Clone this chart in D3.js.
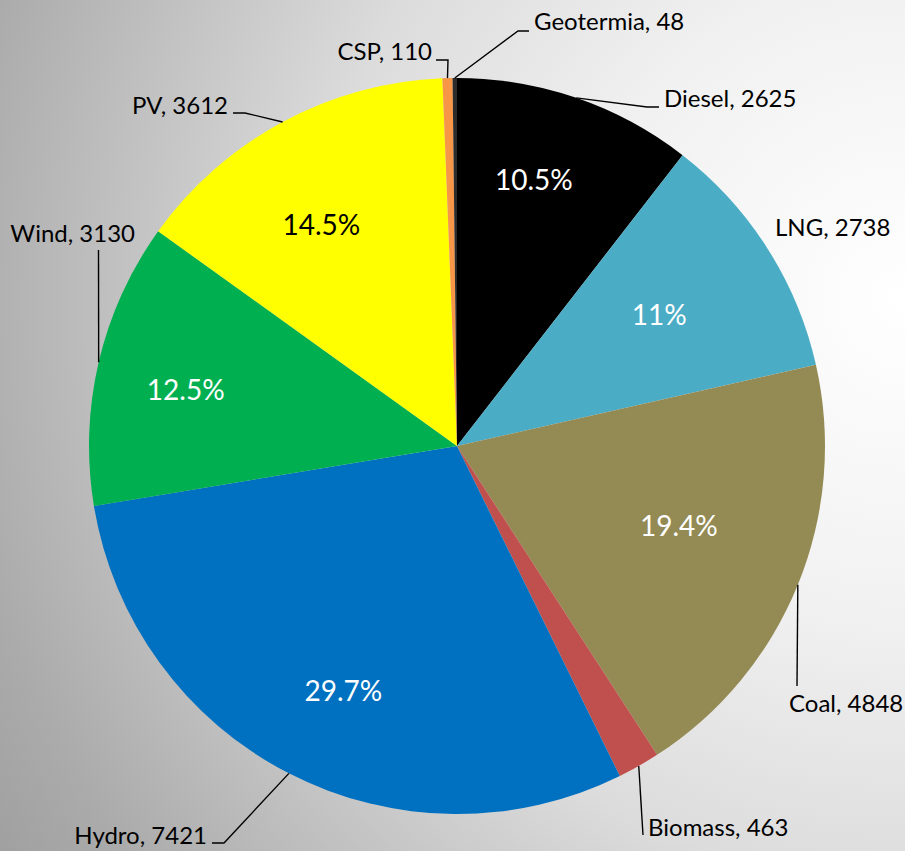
<!DOCTYPE html>
<html>
<head>
<meta charset="utf-8">
<script src="https://cdn.jsdelivr.net/npm/d3@7"></script>
<style>
  html, body { margin: 0; padding: 0; }
  body { width: 905px; height: 851px; overflow: hidden; }
  svg { display: block; font-family: Lato, "Open Sans", sans-serif; }
</style>
</head>
<body>
<script>
// data (clockwise from 12 o'clock)
const names = ["Diesel", "LNG", "Coal", "Biomass", "Hydro", "Wind", "PV", "CSP", "Geotermia"];
const values = [2625, 2738, 4848, 463, 7421, 3130, 3612, 110, 48];
const colors = ["#000000", "#4bacc6", "#948a54", "#c0504d", "#0070c0", "#00b050", "#ffff00", "#f79646", "#2b2b2b"];
const showPct = ["Diesel", "LNG", "Coal", "Hydro", "Wind", "PV"];

// label placement (excel "best fit" look)
const outerLabels = {
  Geotermia: {x: 534, y: 30, anchor: "start", via: [[518, 31], [529, 31]]},
  CSP:       {x: 432, y: 60, anchor: "end",   via: [[448, 60], [436, 60]]},
  Diesel:    {x: 664, y: 107, anchor: "start", via: [[647, 107], [659, 107]]},
  LNG:       {x: 775, y: 236, anchor: "start", via: null},
  Coal:      {x: 789, y: 712, anchor: "start", via: [[797, 686]]},
  Biomass:   {x: 648, y: 836, anchor: "start", via: [[643, 835]]},
  Hydro:     {x: 207, y: 844, anchor: "end",   via: [[224, 843], [212, 843]]},
  Wind:      {x: 135, y: 242, anchor: "end",   via: [[98.5, 250]]},
  PV:        {x: 228, y: 114, anchor: "end",   via: [[245, 113], [233, 113]]}
};
const pctNudge = {
  Diesel: {r: 0.753, da: -2.8},
  LNG:    {r: 0.655, da: -0.5},
  Coal:   {r: 0.641, da: -2.3},
  Hydro:  {r: 0.734, da: -2.3},
  Wind:   {r: 0.753, da: -1.4},
  PV:     {r: 0.704, da: -3.3}
};

const width = 905, height = 851;
const cx = 457, cy = 446, radius = 368;

const data = names.map((n, i) => ({name: n, value: values[i], color: colors[i]}));
const total = d3.sum(values);
const fmt = d3.format(".1~f");

const svg = d3.select("body").append("svg")
  .attr("width", width)
  .attr("height", height)
  .attr("viewBox", [0, 0, width, height]);

// background gradient
const grad = svg.append("defs").append("radialGradient")
  .attr("id", "bg")
  .attr("gradientUnits", "userSpaceOnUse")
  .attr("cx", 905).attr("cy", 300).attr("r", 1060);
[[0, "#ffffff"], [0.3, "#f1f1f1"], [0.55, "#dcdcdc"], [0.9, "#ababab"], [1, "#a0a0a0"]]
  .forEach(([o, c]) => grad.append("stop").attr("offset", o).attr("stop-color", c));

svg.append("rect").attr("width", width).attr("height", height).attr("fill", "url(#bg)");

const pie = d3.pie().sort(null).value(d => d.value);
const arcs = pie(data);
const arc = d3.arc().innerRadius(0).outerRadius(radius);
const edge = d3.arc().innerRadius(radius).outerRadius(radius);

const g = svg.append("g").attr("transform", `translate(${cx},${cy})`);

g.selectAll("path.slice")
  .data(arcs)
  .join("path")
  .attr("class", "slice")
  .attr("d", arc)
  .attr("fill", d => d.data.color);

// percentage labels inside
g.selectAll("text.pct")
  .data(arcs.filter(d => showPct.includes(d.data.name)))
  .join("text")
  .attr("class", "pct")
  .attr("transform", d => {
    const nb = pctNudge[d.data.name];
    const a = (d.startAngle + d.endAngle) / 2 + nb.da * Math.PI / 180;
    const r = radius * nb.r;
    return `translate(${r * Math.sin(a)},${-r * Math.cos(a)})`;
  })
  .attr("text-anchor", "middle")
  .attr("dy", "0.36em")
  .attr("font-size", 28)
  .attr("fill", d => d.data.name === "PV" ? "#000" : "#fff")
  .text(d => fmt(d.data.value / total * 100) + "%");

// outer labels with leader lines
const line = d3.line();
arcs.forEach(d => {
  const lab = outerLabels[d.data.name];
  if (lab.via) {
    const [sx, sy] = edge.centroid(d);
    const pts = [[sx + cx, sy + cy], ...lab.via];
    svg.append("path")
      .attr("d", line(pts))
      .attr("fill", "none")
      .attr("stroke", "#000")
      .attr("stroke-width", 1.4);
  }
  svg.append("text")
    .attr("x", lab.x)
    .attr("y", lab.y)
    .attr("text-anchor", lab.anchor)
    .attr("font-size", 24)
    .attr("fill", "#000")
    .text(`${d.data.name}, ${d.data.value}`);
});
</script>
</body>
</html>
